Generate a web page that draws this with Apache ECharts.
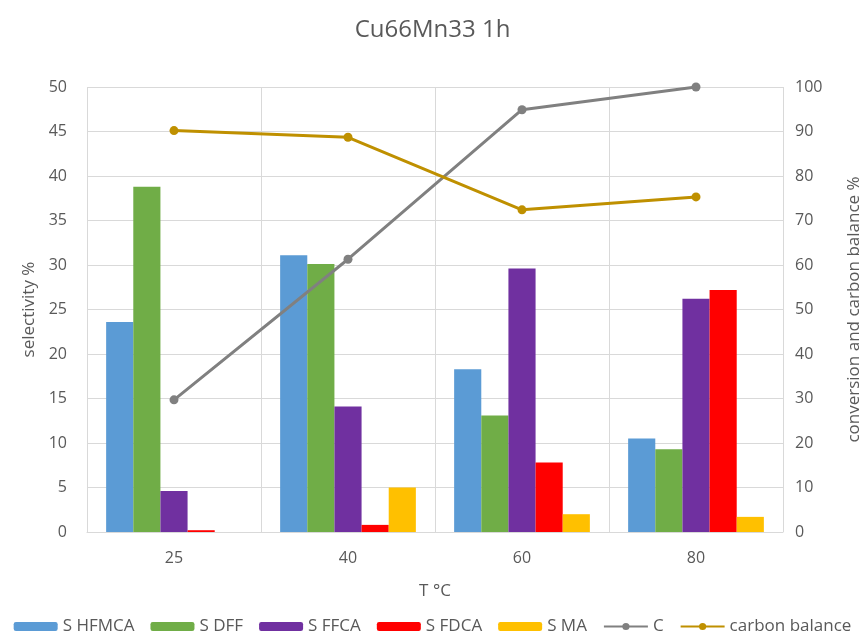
<!DOCTYPE html>
<html>
<head>
<meta charset="utf-8">
<script src="https://cdn.jsdelivr.net/npm/echarts@6/dist/echarts.min.js"></script>
<style>
  html, body { margin: 0; padding: 0; background: #fff; }
  #chart { width: 865px; height: 642px; }
</style>
</head>
<body>
<div id="chart"></div>
<script>
const temps = ['25', '40', '60', '80']
const sHFMCA = [23.6, 31.1, 18.3, 10.5]
const sDFF = [38.8, 30.1, 13.1, 9.3]
const sFFCA = [4.6, 14.1, 29.6, 26.2]
const sFDCA = [0.2, 0.8, 7.8, 27.2]
const sMA = [0, 5.0, 2.0, 1.7]
const conversion = [29.7, 61.3, 94.9, 100]
const carbonBalance = [90.2, 88.7, 72.4, 75.3]

const font = 'Open Sans'
const textColor = '#595959'

// bar series share the same look
const bar = (name, data, color) => ({
  name,
  type: 'bar',
  data,
  yAxisIndex: 0,
  barGap: '0%',
  barCategoryGap: '22%',
  itemStyle: { color }
})
const line = (name, data, color) => ({
  name,
  type: 'line',
  data,
  yAxisIndex: 1,
  symbol: 'circle',
  symbolSize: 9,
  lineStyle: { color, width: 3 },
  itemStyle: { color }
})

const chart = echarts.init(document.getElementById('chart'))
chart.setOption({
  animation: false,
  textStyle: { fontFamily: font },
  title: {
    text: 'Cu66Mn33 1h',
    left: 'center',
    top: 13,
    textStyle: { fontFamily: font, fontSize: 24, fontWeight: 'normal', color: textColor }
  },
  legend: {
    bottom: 2,
    left: 'center',
    itemWidth: 44,
    itemHeight: 9,
    itemGap: 16,
    textStyle: { fontFamily: font, fontSize: 17, color: textColor },
    data: ['S HFMCA', 'S DFF', 'S FFCA', 'S FDCA', 'S MA', 'C', 'carbon balance']
  },
  grid: { left: 87, right: 82, top: 87, bottom: 110, outerBoundsMode: 'none' },
  xAxis: {
    type: 'category',
    data: temps,
    name: 'T °C',
    nameLocation: 'middle',
    nameGap: 51,
    nameTextStyle: { fontSize: 17, color: textColor },
    axisTick: { show: false },
    axisLine: { lineStyle: { color: '#d9d9d9' } },
    axisLabel: { fontSize: 16, color: textColor, margin: 18 },
    splitLine: { show: true, lineStyle: { color: '#d9d9d9' } }
  },
  yAxis: [
    {
      type: 'value',
      min: 0,
      max: 50,
      interval: 5,
      name: 'selectivity %',
      nameLocation: 'middle',
      nameGap: 46,
      nameTextStyle: { fontSize: 17, color: textColor },
      axisLine: { show: false },
      axisTick: { show: false },
      axisLabel: { fontSize: 16, color: textColor, margin: 20 },
      splitLine: { lineStyle: { color: '#d9d9d9' } }
    },
    {
      type: 'value',
      min: 0,
      max: 100,
      interval: 10,
      name: 'conversion and carbon balance %',
      nameLocation: 'middle',
      nameGap: 63,
      nameRotate: 90,
      nameTextStyle: { fontSize: 17, color: textColor },
      axisLine: { show: false },
      axisTick: { show: false },
      axisLabel: { fontSize: 16, color: textColor, margin: 12 },
      splitLine: { show: false }
    }
  ],
  series: [
    bar('S HFMCA', sHFMCA, '#5b9bd5'),
    bar('S DFF', sDFF, '#70ad47'),
    bar('S FFCA', sFFCA, '#7030a0'),
    bar('S FDCA', sFDCA, '#ff0000'),
    bar('S MA', sMA, '#ffc000'),
    line('C', conversion, '#808080'),
    line('carbon balance', carbonBalance, '#bf9000')
  ]
})
</script>
</body>
</html>
